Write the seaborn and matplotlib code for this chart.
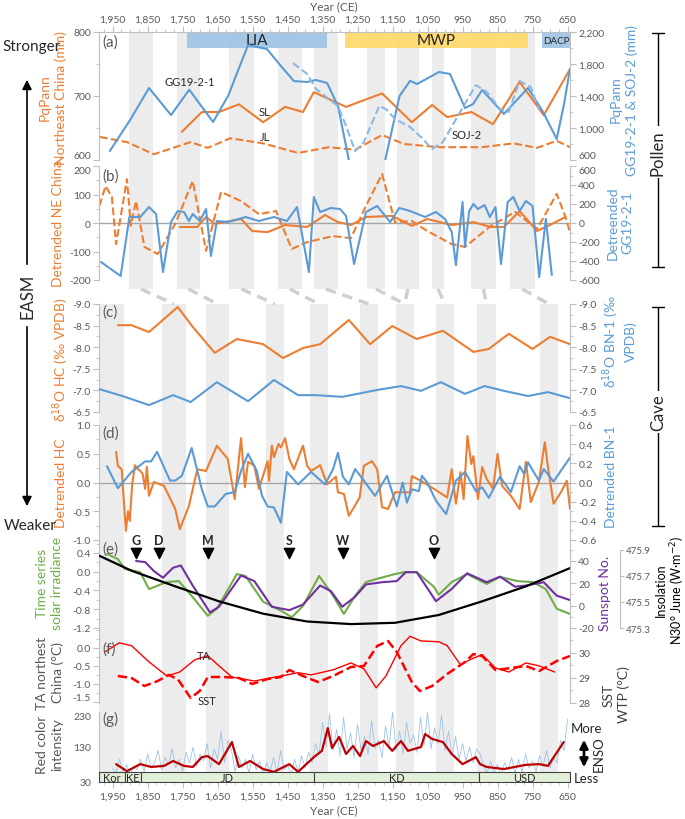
import numpy as np
import pandas as pd
import seaborn as sns
import matplotlib.pyplot as plt
from matplotlib.lines import Line2D
from matplotlib.patches import FancyArrowPatch
from matplotlib.ticker import FuncFormatter, AutoMinorLocator, MultipleLocator
import matplotlib.transforms as mtrans

# ---------------- data ----------------
UP_BANDS = [(1903, 1835), (1766, 1701), (1618, 1546), (1478, 1409), (1375, 1306),
            (1223, 1172), (1138, 1075), (1038, 1003), (926, 855), (815, 744)]
LOW_BANDS = [(1988, 1918), (1809, 1741), (1683, 1618), (1512, 1461), (1386, 1335),
             (1243, 1192), (1141, 1089), (1026, 975), (909, 855), (729, 678)]
LINKS = [(0, 1), (1, 2), (2, 3), (3, 4), (4, 5), (5, 6), (6, 6), (7, 7), (8, 8), (9, 9)]

PERIODS = ['LIA', 'MWP', 'DACP']
PERIOD_SPAN = [(1737, 1337), (1286, 764), (723, 643)]

# (a)
GG_YR = [1958, 1900, 1846, 1783, 1731, 1663, 1620, 1563, 1509, 1469, 1432, 1394, 1369, 1337,
         1306, 1275, 1225, 1171, 1130, 1100, 1080, 1017, 986, 943, 920, 894, 832, 763, 720,
         681, 660, 643]
GG_VAL = [712, 1100, 1500, 1162, 1479, 1075, 1400, 2037, 1987, 1775, 1587, 1575, 1600, 1562,
          1275, 600, 100, 600, 1400, 1590, 1550, 1700, 1675, 1250, 1300, 1475, 1175, 1500, 1200,
          862, 1300, 1737]
SOJ_YR = [1435, 1394, 1369, 1332, 1306, 1283, 1257, 1232, 1188, 1169, 1143, 1100, 1063, 1037,
          1006, 957, 912, 881, 843, 818, 787, 755, 732]
SOJ_VAL = [1812, 1675, 1487, 1362, 1275, 1025, 712, 825, 1275, 1237, 1112, 1012, 862, 737,
           825, 1200, 1537, 1450, 1237, 1200, 1588, 1512, 1237]
SL_YR = [1752, 1695, 1646, 1589, 1520, 1457, 1406, 1375, 1283, 1180, 1095, 1037, 994, 925,
         863, 787, 718, 643]
SL_VAL = [644, 675, 675, 687, 659, 683, 675, 706, 683, 704, 659, 686, 667, 675, 656, 722, 670, 742]
JL_YR = [1986, 1909, 1832, 1727, 1678, 1614, 1520, 1420, 1332, 1257, 1180, 1117, 1017, 894,
         805, 737, 681, 643]
JL_VAL = [636, 628, 609, 628, 619, 634, 626, 611, 620, 616, 639, 625, 620, 620, 626, 619, 630, 620]

# (b)
NESL_YR = [1758, 1708, 1683, 1658, 1583, 1551, 1507, 1457, 1394, 1343, 1306, 1269, 1226, 1151,
           1095, 1051, 981, 919, 869, 832, 787, 737, 694, 656]
NESL_VAL = [-14, -14, 21, -3, 14, -28, -32, -7, -14, 28, 3, -7, 21, 25, -10, 14, -7, 3, -14,
            -14, 42, -28, -3, 21]
NEJL_YR = [1988, 1970, 1952, 1940, 1909, 1898, 1883, 1859, 1821, 1771, 1721, 1683, 1640, 1583,
           1532, 1483, 1438, 1394, 1320, 1269, 1226, 1180, 1143, 1095, 1051, 981, 943, 869, 800,
           737, 681, 656, 643]
NEJL_VAL = [60, 130, 91, -74, 154, -10, 77, -84, -109, -3, 147, -98, 109, 77, 31, 42, -91, -67,
            -46, -53, 60, 172, 3, 7, -28, -74, -84, -10, 39, -21, 102, 21, -32]
GGD_YR = [1983, 1927, 1902, 1871, 1846, 1826, 1806, 1783, 1764, 1746, 1732, 1721, 1701, 1683,
          1669, 1652, 1621, 1589, 1570, 1532, 1489, 1452, 1423, 1389, 1375, 1357, 1326, 1300,
          1283, 1260, 1226, 1194, 1157, 1131, 1100, 1057, 1026, 1000, 981, 969, 950, 943, 931,
          919, 906, 887, 872, 856, 840, 821, 805, 787, 769, 750, 731, 712, 695]
GGD_VAL = [-411, -558, 63, 63, 168, 95, -516, 10, 126, 116, 21, 95, 21, 147, -347, 21, 10, 42,
           63, 21, 63, 21, 168, -516, 274, 116, 158, 147, 74, -432, 116, 179, 10, 158, 126, 63,
           116, 42, -95, -442, 221, -253, 126, 200, 147, 189, 63, 168, -432, 221, 274, 126, 232,
           179, -569, 42, -548]

# (c)
HC_YR = [1935, 1896, 1846, 1764, 1721, 1658, 1595, 1551, 1520, 1463, 1406, 1357, 1275, 1214,
         1151, 1081, 1006, 919, 875, 818, 750, 700, 643]
HC_VAL = [-8.51, -8.51, -8.35, -8.93, -8.47, -7.87, -8.19, -8.12, -8.07, -7.75, -7.98, -8.07,
          -8.63, -8.07, -8.49, -8.19, -8.38, -7.89, -7.96, -8.31, -7.96, -8.24, -8.07]
BN_YR = [1988, 1922, 1846, 1777, 1727, 1652, 1563, 1489, 1420, 1369, 1294, 1194, 1126, 1069,
         1012, 943, 887, 832, 763, 706, 643]
BN_VAL = [-7.03, -6.87, -6.66, -6.89, -6.73, -7.19, -6.75, -7.24, -6.89, -6.89, -6.85, -7.01,
          -7.10, -6.99, -7.19, -6.92, -7.10, -6.99, -6.87, -6.96, -6.82]

# (d)
HCD_YR = [1940, 1935, 1924, 1912, 1906, 1901, 1894, 1886, 1877, 1871, 1864, 1857, 1852, 1846,
          1832, 1803, 1771, 1758, 1732, 1708, 1683, 1652, 1621, 1601, 1583, 1572, 1563, 1545,
          1532, 1507, 1503, 1495, 1489, 1476, 1469, 1457, 1445, 1432, 1406, 1394, 1383, 1357,
          1337, 1312, 1306, 1289, 1275, 1263, 1244, 1232, 1209, 1194, 1180, 1163, 1143, 1100,
          1095, 1069, 1032, 994, 981, 969, 956, 947, 936, 925, 919, 906, 894, 881, 863, 850,
          837, 812, 787, 769, 755, 732, 715, 706, 690, 669, 652, 643]
HCD_VAL = [0.53, 0.29, 0.23, -0.84, -0.50, -0.67, -0.03, 0.30, 0.23, 0.20, 0.15, -0.11, 0.27,
           -0.23, 0.01, -0.06, -0.46, -0.81, -0.41, 0.23, 0.20, 0.64, 0.41, -0.29, 0.77, -0.08,
           0.36, 0.29, -0.11, 0.37, 0.03, 0.64, 0.44, 0.67, 0.61, 0.77, 0.41, 0.23, 0.64, 0.29,
           0.20, 0.30, -0.03, 0.10, -0.17, -0.20, -0.58, -0.46, -0.26, 0.29, 0.37, 0.23, -0.43,
           -0.46, -0.17, -0.17, 0.11, 0.03, -0.11, -0.26, 0.23, -0.37, 0.18, -0.29, 0.81, 0.32,
           0.46, -0.29, 0.27, 0.06, -0.11, 0.50, -0.06, -0.23, -0.46, 0.36, -0.34, 0.01, 0.70,
           0.27, -0.37, -0.17, 0.03, -0.46]
BND_YR = [1966, 1935, 1896, 1857, 1840, 1823, 1786, 1771, 1752, 1724, 1695, 1678, 1658, 1627,
          1601, 1583, 1563, 1538, 1523, 1507, 1489, 1469, 1452, 1420, 1383, 1343, 1320, 1306,
          1292, 1275, 1257, 1232, 1200, 1166, 1138, 1121, 1109, 1095, 1075, 1066, 1051, 1026,
          997, 969, 943, 912, 894, 875, 843, 812, 787, 774, 763, 732, 718, 690, 675, 643]
BND_VAL = [0.17, -0.06, 0.11, 0.22, 0.22, 0.32, 0.02, 0.02, 0.07, 0.36, -0.07, -0.25, -0.25,
           -0.12, -0.10, 0.12, 0.30, 0.12, -0.14, -0.25, -0.26, -0.42, 0.11, -0.02, 0.11, -0.02,
           0.14, 0.31, 0.06, -0.02, 0.14, 0.02, -0.14, 0.07, -0.25, 0.00, -0.21, -0.07, -0.09,
           0.07, 0.00, -0.19, -0.33, 0.02, 0.11, -0.09, -0.05, -0.16, 0.06, -0.10, 0.17, 0.09,
           0.21, 0.02, 0.14, 0.01, 0.09, 0.26]

# (e)
TSI_YR = [1966, 1935, 1915, 1871, 1846, 1795, 1761, 1721, 1678, 1652, 1595, 1570, 1520, 1469,
          1438, 1406, 1360, 1320, 1289, 1257, 1226, 1194, 1143, 1117, 1081, 1032, 1018, 981, 937,
          881, 843, 793, 750, 712, 681, 643]
TSI_VAL = [0.38, 0.27, 0.06, -0.01, -0.37, -0.22, -0.20, -0.54, -0.94, -0.79, -0.05, -0.09,
           -0.64, -0.83, -0.97, -0.73, -0.09, -0.51, -0.90, -0.51, -0.22, -0.15, -0.05, -0.01,
           -0.01, -0.32, -0.49, -0.22, -0.05, -0.26, -0.11, -0.20, -0.22, -0.37, -0.79, -0.90]
SUN_YR = [1883, 1857, 1832, 1806, 1777, 1755, 1721, 1672, 1646, 1583, 1545, 1495, 1445, 1406,
          1357, 1326, 1294, 1257, 1226, 1180, 1138, 1112, 1081, 1026, 981, 937, 881, 843, 800,
          769, 718, 681, 643]
SUN_VAL = [40, 39, 31, 25, 34, 36, 18, -6, -1, 27, 22, -1, -4, 1, 18, 13, -1, 8, 19, 21, 22,
           30, 30, 4, 15, 29, 21, 26, 17, 18, 21, 9, 5]
INS_YR = [1988, 1896, 1771, 1646, 1520, 1394, 1269, 1143, 1018, 894, 769, 643]
INS_VAL = [475.855, 475.74, 475.62, 475.505, 475.41, 475.35, 475.33, 475.34, 475.40, 475.505,
           475.62, 475.76]
MINIMA = ['G', 'D', 'M', 'S', 'W', 'O']
MINIMA_YR = [1883, 1817, 1678, 1445, 1292, 1032]

# (f)
TA_YR = [1971, 1931, 1896, 1846, 1795, 1758, 1715, 1678, 1646, 1609, 1545, 1495, 1420, 1383,
         1320, 1269, 1232, 1197, 1169, 1126, 1100, 1069, 1018, 994, 956, 925, 894, 856, 818,
         769, 731, 687]
TA_VAL = [-0.11, 0.14, 0.06, -0.39, -0.78, -0.67, -0.33, -0.22, -0.50, -0.81, -0.92, -0.83,
          -0.69, -0.75, -0.61, -0.42, -0.58, -1.11, -0.78, 0.06, 0.32, 0.19, 0.17, 0.06, -0.47,
          -0.31, -0.19, -0.56, -0.67, -0.42, -0.50, -0.67]
SST_YR = [1935, 1896, 1859, 1821, 1790, 1764, 1727, 1701, 1678, 1633, 1589, 1551, 1507, 1469,
          1445, 1406, 1363, 1320, 1269, 1232, 1194, 1163, 1138, 1095, 1072, 1037, 994, 943, 919,
          894, 856, 812, 769, 731, 681, 643]
SST_VAL = [29.08, 29.0, 28.68, 28.88, 29.12, 28.96, 28.2, 28.48, 29.04, 29.04, 29.0, 28.76,
           28.96, 29.04, 29.32, 29.08, 28.84, 29.08, 29.44, 29.48, 30.28, 30.48, 30.04, 28.84,
           28.48, 28.68, 29.16, 29.64, 29.96, 29.88, 29.32, 29.4, 29.48, 29.28, 29.68, 29.88]

# (g)
RED_YR = [1940, 1909, 1871, 1840, 1803, 1777, 1746, 1721, 1695, 1678, 1646, 1609, 1589, 1557,
          1520, 1489, 1445, 1420, 1375, 1352, 1335, 1323, 1303, 1283, 1263, 1243, 1226, 1206,
          1175, 1151, 1126, 1106, 1069, 1057, 1037, 1006, 981, 950, 912, 900, 881, 832, 769,
          731, 706, 661]
RED_VAL = [81, 61, 81, 73, 76, 90, 76, 73, 101, 104, 81, 144, 73, 90, 67, 59, 81, 59, 101, 119,
           184, 127, 159, 110, 133, 104, 147, 133, 147, 119, 147, 119, 130, 167, 153, 144, 110,
           81, 101, 81, 73, 67, 79, 81, 76, 144]
RAW_YR = list(range(1950, 649, -10))
RAW_VAL = [70, 55, 95, 60, 80, 50, 75, 65,
           95, 60, 110, 70, 85, 120, 65, 100, 80, 125, 70, 95, 60, 115, 85, 130, 75, 110, 90,
           140, 70, 125, 95, 175, 85, 150,
           120, 60, 105, 70, 95, 55, 110, 65, 90, 50, 85, 60, 100, 55, 120, 65, 80, 50, 95, 60,
           105, 70, 115, 85,
           140, 110, 200, 130, 225, 120, 180, 105, 215, 125, 170, 100, 195, 120, 160, 110, 205,
           125, 150, 100, 190, 130, 230, 120, 175, 110, 200, 140, 165, 115, 215, 135, 230, 125,
           185, 140, 220, 120, 175, 105, 160, 95, 140, 90, 130, 85, 125, 110,
           75, 55, 90, 60, 80, 50, 85, 65, 100, 55, 95, 60, 110, 70, 90, 60, 105, 75, 120, 70,
           100, 85, 150, 120, 210]
DYN = ['Kor', 'KE', 'JD', 'KD', 'USD']
DYN_EDGES = [1988, 1915, 1869, 1375, 903, 643]

# ---------------- style ----------------
sns.set_style("white")
plt.rcParams['font.family'] = ['Lato', 'DejaVu Sans']

ORANGE = '#ED7D31'
BLUE = '#5B9BD5'
LBLUE = '#8DB8E3'
GREEN = '#70AD47'
PURPLE = '#7030A0'
RED = '#FF0000'
DRED = '#C00000'
GRAY = '#595959'
SPINE = '#bfbfbf'
BAND = '#ececec'

W, H = 685, 820
L, R = 99.3, 570
XLIM = (1988, 643)

fig = plt.figure(figsize=(6.85, 8.2), dpi=100)


def rect(top, bottom):
    return [L / W, 1 - bottom / H, (R - L) / W, (bottom - top) / H]


def ftext(x, y, s, **kw):
    kw.setdefault('ha', 'center')
    kw.setdefault('va', 'center')
    fig.text(x / W, 1 - y / H, s, **kw)


def line(ax, x, y, color, ls='-', lw=1.5):
    sns.lineplot(x=x, y=y, ax=ax, color=color, linestyle=ls, linewidth=lw,
                 estimator=None, sort=False, legend=False)


def style(ax, side, ylim, ticks, fmt='{:.1f}', minor=2):
    ax.set_facecolor('none')
    for s in ['top', 'bottom', 'left', 'right']:
        ax.spines[s].set_visible(False)
    ax.spines[side].set_visible(True)
    ax.spines[side].set_color(SPINE)
    ax.set_ylim(*ylim)
    ax.set_yticks(ticks)
    ax.yaxis.set_major_formatter(FuncFormatter(lambda v, p: fmt.format(v)))
    if minor:
        ax.yaxis.set_minor_locator(AutoMinorLocator(minor))
    ax.tick_params(axis='y', which='both', colors=SPINE, labelcolor=GRAY, labelsize=7.5,
                   direction='out')
    ax.tick_params(axis='y', which='major', length=4, pad=2)
    ax.tick_params(axis='y', which='minor', length=2)
    ax.tick_params(axis='x', which='both', bottom=False, top=False,
                   labelbottom=False, labeltop=False)
    ax.set_xlim(*XLIM)
    ax.set_xlabel('')
    ax.set_ylabel('')
    ax.grid(False)


def nudge(ax, idx, va):
    # keep stacked end labels of neighbouring panels apart
    t = ax.yaxis.get_major_ticks()[idx]
    t.label1.set_va(va)
    t.label2.set_va(va)


def year_axis(ax, where):
    ax.spines[where].set_visible(True)
    ax.spines[where].set_color(SPINE)
    ax.set_xticks(range(1950, 649, -100))
    ax.xaxis.set_minor_locator(MultipleLocator(25))
    ax.xaxis.set_major_formatter(FuncFormatter(lambda v, p: f'{v:,.0f}'))
    if where == 'top':
        ax.tick_params(axis='x', which='both', top=True, labeltop=True, colors=SPINE,
                       labelcolor=GRAY, labelsize=7.5, direction='out', pad=2)
    else:
        ax.tick_params(axis='x', which='both', bottom=True, labelbottom=True, colors=SPINE,
                       labelcolor=GRAY, labelsize=7.5, direction='out', pad=3)
    ax.tick_params(axis='x', which='major', length=4)
    ax.tick_params(axis='x', which='minor', length=2)


# ---------------- background bands ----------------
bg = fig.add_axes(rect(33, 783))
bg.set_zorder(-5)
bg.set_xlim(*XLIM)
bg.set_ylim(783, 33)
bg.axis('off')
up_lo, low_hi = (783 - 290) / 750, (783 - 305) / 750
for s, e in UP_BANDS:
    bg.axvspan(s, e, ymin=up_lo, ymax=1, color=BAND, lw=0)
for s, e in LOW_BANDS:
    bg.axvspan(s, e, ymin=0, ymax=low_hi, color=BAND, lw=0)
for i, j in LINKS:
    u = sum(UP_BANDS[i]) / 2
    lo = sum(LOW_BANDS[j]) / 2
    bg.plot([u, lo], [290, 305], ls=(0, (3, 2)), color='#cfcfcf', lw=2.5)

# ---------------- (a) ----------------
ax_a = fig.add_axes(rect(33, 161))
ax_a2 = ax_a.twinx()
line(ax_a, SL_YR, SL_VAL, ORANGE)
line(ax_a, JL_YR, JL_VAL, ORANGE, ls='--')
line(ax_a2, GG_YR, GG_VAL, BLUE)
line(ax_a2, SOJ_YR, SOJ_VAL, LBLUE, ls='--')
style(ax_a, 'left', (600, 800), [600, 700, 800], '{:.0f}')
style(ax_a2, 'right', (600, 2200), [600, 1000, 1400, 1800, 2200], '{:,.0f}')
year_axis(ax_a, 'top')
nudge(ax_a, 0, 'bottom')
nudge(ax_a2, 0, 'bottom')
period_colors = ['#9DC3E6', '#FFD966', '#9DC3E6']
for name, (s, e), c in zip(PERIODS, PERIOD_SPAN, period_colors):
    ax_a.axvspan(s, e, ymin=0.875, ymax=0.995, color=c, lw=0, alpha=0.9, zorder=0)
    ax_a.text((s + e) / 2, 787, name, ha='center', va='center',
              fontsize=7 if name == 'DACP' else 11, color='#262626')
ax_a.text(1729, 722, 'GG19-2-1', fontsize=8, ha='center', va='center')
ax_a.text(1515, 675, 'SL', fontsize=8, ha='center', va='center')
ax_a.text(1515, 636, 'JL', fontsize=8, ha='center', va='center')
ax_a.text(937, 640, 'SOJ-2', fontsize=8, ha='center', va='center')

# ---------------- (b) ----------------
ax_b = fig.add_axes(rect(167, 281))
ax_b2 = ax_b.twinx()
ax_b.axhline(0, color='#a6a6a6', lw=1)
line(ax_b, NESL_YR, NESL_VAL, ORANGE)
line(ax_b, NEJL_YR, NEJL_VAL, ORANGE, ls='--')
line(ax_b2, GGD_YR, GGD_VAL, BLUE)
style(ax_b, 'left', (-200, 200), [-200, -100, 0, 100, 200], '{:.0f}')
style(ax_b2, 'right', (-600, 600), [-600, -400, -200, 0, 200, 400, 600], '{:.0f}')
nudge(ax_b, -1, 'top')
nudge(ax_b2, -1, 'top')

# ---------------- (c) ----------------
ax_c = fig.add_axes(rect(305, 413))
ax_c2 = ax_c.twinx()
line(ax_c, HC_YR, HC_VAL, ORANGE)
line(ax_c2, BN_YR, BN_VAL, BLUE)
cticks = [-9.0, -8.5, -8.0, -7.5, -7.0, -6.5]
style(ax_c, 'left', (-6.5, -9.0), cticks)
style(ax_c2, 'right', (-6.5, -9.0), cticks)

# ---------------- (d) ----------------
ax_d = fig.add_axes(rect(426, 541))
ax_d2 = ax_d.twinx()
ax_d.axhline(0, color='#a6a6a6', lw=1)
line(ax_d, HCD_YR, HCD_VAL, ORANGE)
line(ax_d2, BND_YR, BND_VAL, BLUE)
style(ax_d, 'left', (-1.0, 1.0), [-1.0, -0.5, 0.0, 0.5, 1.0])
style(ax_d2, 'right', (-0.6, 0.6), [-0.6, -0.4, -0.2, 0.0, 0.2, 0.4, 0.6])

# ---------------- (e) ----------------
ax_e = fig.add_axes(rect(541, 629))
ax_e2 = ax_e.twinx()
ax_e3 = ax_e.twinx()
line(ax_e, TSI_YR, TSI_VAL, GREEN)
line(ax_e2, SUN_YR, SUN_VAL, PURPLE)
line(ax_e3, INS_YR, INS_VAL, 'black', lw=1.6)
style(ax_e, 'left', (-1.2, 0.677), [-1.2, -0.8, -0.4, 0.0, 0.4])
style(ax_e2, 'right', (-20, 58.8), [-20, 0, 20, 40], '{:.0f}')
style(ax_e3, 'right', (475.308, 475.976), [475.3, 475.5, 475.7, 475.9], '{:.1f}', minor=0)
ax_e3.tick_params(axis='y', labelsize=7, pad=1.5, length=3)
ax_e3.spines['right'].set_position(('axes', (620 - L) / (R - L)))
ax_e3.spines['right'].set_bounds(475.3, 475.9)
blend = mtrans.blended_transform_factory(ax_e.transData, ax_e.transAxes)
ax_e.scatter(MINIMA_YR, [0.855] * len(MINIMA_YR), marker='v', s=55, color='black',
             transform=blend, clip_on=False, zorder=5)
for name, yr in zip(MINIMA, MINIMA_YR):
    ax_e.text(yr, 1.0, name, transform=blend, ha='center', va='center', fontsize=9,
              fontweight='bold')

# ---------------- (f) ----------------
ax_f = fig.add_axes(rect(629, 704))
ax_f2 = ax_f.twinx()
line(ax_f, TA_YR, TA_VAL, RED, lw=1.0)
line(ax_f2, SST_YR, SST_VAL, RED, ls='--', lw=1.8)
style(ax_f, 'left', (-1.53, 0.55), [-1.5, -1.0, -0.5, 0.0])
style(ax_f2, 'right', (28, 31), [28, 29, 30], '{:.0f}')
nudge(ax_f, 0, 'bottom')
ax_f.text(1690, -0.22, 'TA', fontsize=8, ha='center', va='center')
ax_f.text(1680, -1.45, 'SST', fontsize=8, ha='center', va='center')

# ---------------- (g) ----------------
ax_g = fig.add_axes(rect(713, 783))
line(ax_g, RAW_YR, RAW_VAL, '#9DC3E6', lw=0.6)
line(ax_g, RED_YR, RED_VAL, DRED, lw=1.6)
style(ax_g, 'left', (30, 230), [30, 130, 230], '{:.0f}')
year_axis(ax_g, 'bottom')
nudge(ax_g, -1, 'top')
for name, s, e in zip(DYN, DYN_EDGES[:-1], DYN_EDGES[1:]):
    ax_g.fill_between([s, e], 30, 58.5, facecolor='#E2EFD9', edgecolor='#404040', lw=0.8,
                      zorder=4)
    ax_g.text((s + e) / 2, 44, name, ha='center', va='center', fontsize=8, zorder=5)

# ---------------- year titles ----------------
ftext(334, 7, 'Year (CE)', fontsize=8.5, color=GRAY)
ftext(334, 811, 'Year (CE)', fontsize=8.5, color=GRAY)

# ---------------- panel letters ----------------
for lab, y in zip('abcdefg', [43, 177, 313, 434, 550, 650, 719]):
    ftext(102, y, f'({lab})', ha='left', fontsize=11, color=GRAY)

# ---------------- axis titles ----------------
ftext(45, 98, 'PqPann', rotation=90, color=ORANGE, fontsize=10)
ftext(61, 98, 'Northeast China (mm)', rotation=90, color=ORANGE, fontsize=10)
ftext(58, 224, 'Detrended NE China', rotation=90, color=ORANGE, fontsize=10)
ftext(61, 360, 'δ$^{18}$O HC (‰ VPDB)', rotation=90, color=ORANGE, fontsize=10)
ftext(61, 483, 'Detrended HC', rotation=90, color=ORANGE, fontsize=10)
ftext(50, 583, 'Time series\nsolar irradiance', rotation=90, color=GREEN, fontsize=10,
      linespacing=1.3)
ftext(50, 673, 'TA northest\nChina (°C)', rotation=90, color=GRAY, fontsize=10,
      linespacing=1.3)
ftext(50, 745, 'Red color\nintensity', rotation=90, color=GRAY, fontsize=10, linespacing=1.3)

ftext(624, 100, 'PqPann\nGG19-2-1 & SOJ-2 (mm)', rotation=90, color=BLUE, fontsize=10,
      linespacing=1.3)
ftext(620, 223, 'Detreended\nGG19-2-1', rotation=90, color=BLUE, fontsize=10, linespacing=1.3)
ftext(619, 342, 'δ$^{18}$O BN-1 (‰\nVPDB)', rotation=90, color=BLUE, fontsize=10,
      linespacing=1.3)
ftext(611, 477, 'Detrended BN-1', rotation=90, color=BLUE, fontsize=10)
ftext(605, 593, 'Sunspot No.', rotation=90, color=PURPLE, fontsize=10)
ftext(671, 590, 'Insolation\nN30° June (W·m$^{-2}$)', rotation=90, color='black',
      fontsize=9, linespacing=1.05)
ftext(616, 695, 'SST\nWTP (°C)', rotation=90, color='#404040', fontsize=10, linespacing=1.3)

# ---------------- side annotations ----------------
def fline(xs, ys, **kw):
    fig.add_artist(Line2D([x / W for x in xs], [1 - y / H for y in ys],
                          transform=fig.transFigure, **kw))


for y1, y2, name, ym in [(34, 268, 'Pollen', 153), (308, 527, 'Cave', 413)]:
    fline([658, 658], [y1, y2], color='black', lw=1)
    fline([652, 664], [y1, y1], color='black', lw=1)
    fline([652, 664], [y2, y2], color='black', lw=1)
    ftext(658, ym, name, rotation=90, fontsize=12,
          bbox=dict(facecolor='white', edgecolor='none', pad=2))

ftext(2, 47, 'Stronger', ha='left', fontsize=11)
ftext(4, 526, 'Weaker', ha='left', fontsize=11)
ftext(27, 296, 'EASM', rotation=90, fontsize=12)
fig.add_artist(FancyArrowPatch((27 / W, 1 - 268 / H), (27 / W, 1 - 78 / H),
                               transform=fig.transFigure, arrowstyle='-|>',
                               mutation_scale=14, color='black', lw=1.2))
fig.add_artist(FancyArrowPatch((27 / W, 1 - 325 / H), (27 / W, 1 - 510 / H),
                               transform=fig.transFigure, arrowstyle='-|>',
                               mutation_scale=14, color='black', lw=1.2))

ftext(586, 729, 'More', fontsize=9.5)
ftext(586, 779, 'Less', fontsize=9.5)
ftext(599, 754, 'ENSO', rotation=90, fontsize=9.5)
fig.add_artist(FancyArrowPatch((584 / W, 1 - 738 / H), (584 / W, 1 - 771 / H),
                               transform=fig.transFigure, arrowstyle='<|-|>',
                               mutation_scale=12, color='black', lw=2))

fig.savefig('out.png', dpi=100)
